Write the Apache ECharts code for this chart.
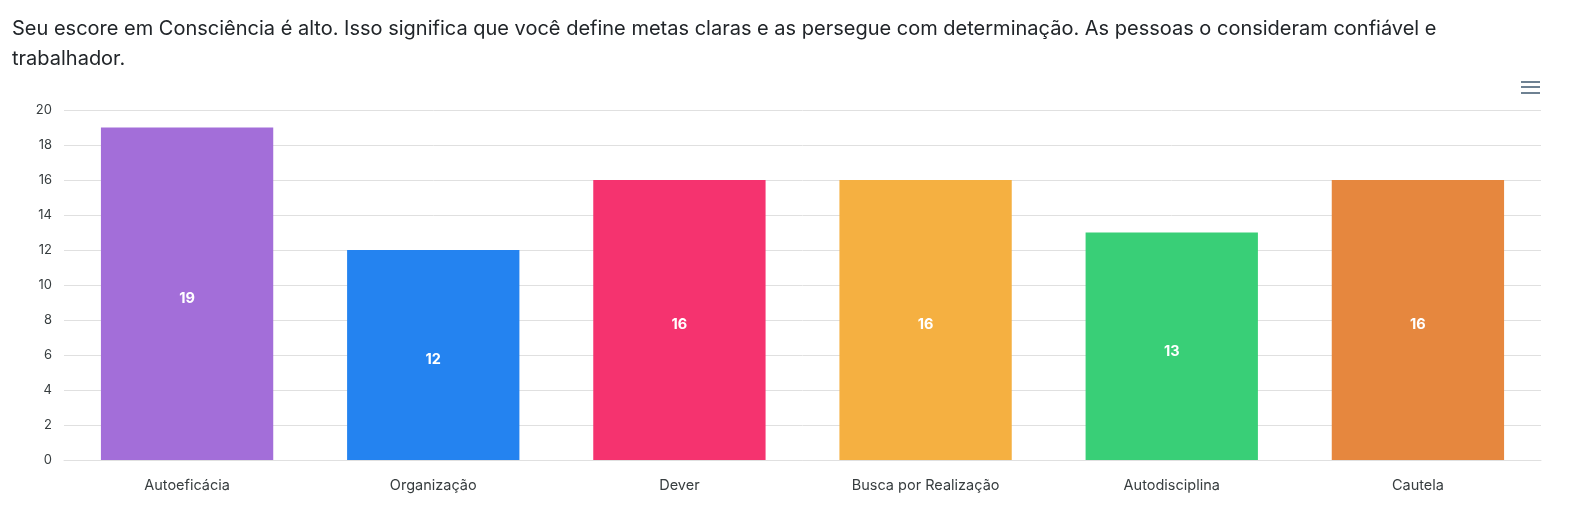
<!DOCTYPE html>
<html>
<head>
<meta charset="utf-8">
<script src="https://cdn.jsdelivr.net/npm/echarts@6/dist/echarts.min.js"></script>
<style>
  html, body { margin: 0; padding: 0; background: #fff; }
  #intro {
    position: absolute; left: 12px; top: 13px; width: 1480px;
    font-family: Inter, "Noto Sans", sans-serif; font-size: 20px; line-height: 30px; color: #212529;
  }
  #chart { position: absolute; left: 0; top: 0; width: 1588px; height: 508px; }
</style>
</head>
<body>
<div id="chart"></div>
<div id="intro">Seu escore em Consciência é alto. Isso significa que você define metas claras e as persegue com determinação. As pessoas o consideram confiável e trabalhador.</div>
<script>
// facetas de Consciência
const categories = ['Autoeficácia', 'Organização', 'Dever', 'Busca por Realização', 'Autodisciplina', 'Cautela'];
const scores = [19, 12, 16, 16, 13, 16];
const barColors = ['#a36ed9', '#2483f0', '#f5336f', '#f5b041', '#39cf77', '#e6873e'];
const yTicks = { min: 0, max: 20, interval: 2 };

const chart = echarts.init(document.getElementById('chart'));

const options = {
  animation: false,
  grid: { left: 64, right: 47, top: 110, bottom: 48 },
  xAxis: [{
    type: 'category',
    data: categories,
    axisLine: { lineStyle: { color: '#e0e0e0' } },
    axisTick: { length: 7, lineStyle: { color: '#e0e0e0' } },
    axisLabel: { margin: 18, fontFamily: 'Inter', fontSize: 14.5, color: '#373d3f' }
  }],
  yAxis: [{
    type: 'value',
    min: yTicks.min,
    max: yTicks.max,
    interval: yTicks.interval,
    axisLabel: { margin: 12, fontFamily: 'Inter', fontSize: 13, color: '#373d3f' },
    splitLine: { lineStyle: { color: '#e0e0e0' } }
  }],
  series: [{
    type: 'bar',
    barWidth: '70%',
    data: scores.map((v, i) => ({ value: v, itemStyle: { color: barColors[i] } })),
    label: {
      show: true,
      position: 'inside',
      offset: [0, 5],
      color: '#fff',
      fontFamily: 'Inter',
      fontWeight: 'bold',
      fontSize: 14.5
    }
  }],
  graphic: [
    // menu icon
    { type: 'rect', left: 1521, top: 81, shape: { width: 19, height: 2 }, style: { fill: '#6e8192' } },
    { type: 'rect', left: 1521, top: 86, shape: { width: 19, height: 2 }, style: { fill: '#6e8192' } },
    { type: 'rect', left: 1521, top: 92, shape: { width: 19, height: 2 }, style: { fill: '#6e8192' } }
  ]
};

chart.setOption(options);
</script>
</body>
</html>
